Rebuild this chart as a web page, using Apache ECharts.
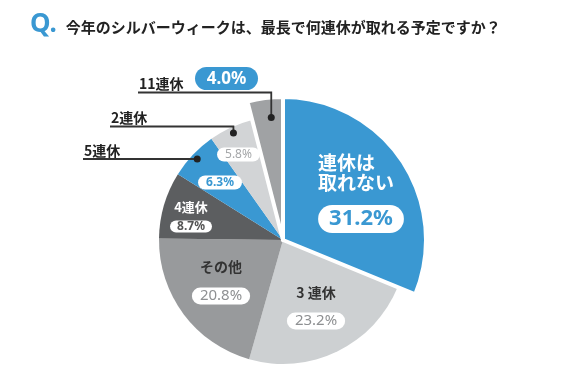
<!DOCTYPE html>
<html><head><meta charset="utf-8">
<script src="https://cdn.jsdelivr.net/npm/echarts@6/dist/echarts.min.js"></script>
<style>html,body{margin:0;padding:0;background:#fff}#c{width:566px;height:385px}</style>
</head><body><div id="c"></div>
<script>
// ---- data ----
const titleQ = 'Q.';
const titleText = '今年のシルバーウィークは、最長で何連休が取れる予定ですか？';
const categories = ['連休は取れない', '3連休', 'その他', '4連休', '5連休', '2連休', '11連休'];
const values = [31.2, 23.2, 20.8, 8.7, 6.3, 5.8, 4.0];
const sliceTitles = ['連休は\n取れない', '3 連休', 'その他', '4連休', '', '', ''];
const outsideNames = ['5連休', '2連休', '11連休'];
const percentLabels = values.map(v => v.toFixed(1) + '%');

// ---- styles / layout ----
const JP = '"Noto Sans CJK JP", "Noto Sans", sans-serif';
const NUM = '"Noto Sans", "Noto Sans CJK JP", sans-serif';
const BLUE = '#3a98d2';
const colors = [BLUE, '#cdd0d2', '#989a9c', '#5c5e60', BLUE, '#d2d4d6', '#a0a2a4'];
const isBig = [true, false, false, false, false, false, true];
const CX = 283, CY = 240, R_BIG = 143, R_SMALL = 124;
// label block centres
const labelPos = [[361, 199], [316, 302.5], [221, 276.5], [191, 214], [220, 182.5], [238.5, 154.5], [0, 0]];
// title style / pill style keys per slice
const titleStyle = ['wt', 'dt3', 'dto', 'w4', null, null, null];
const pillStyle = ['pb', 'pg', 'pg', 'pd', 'pbs', 'pls', null];
// outside label layout: [index, left x, line y, dot radius, fraction within slice]
const outsideLayout = [[4, 83, 159, 118, 0.5], [5, 110, 126.5, 118, 0.5], [6, 138, 92.5, 123, 0.62]];

const total = values.reduce((a, b) => a + b, 0);
const starts = [];
values.reduce((acc, v) => { starts.push(acc); return acc + v; }, 0);
function sliceAngle(i, f) { return (starts[i] + values[i] * f) / total * 360; }
function polar(deg, r) {
  const a = deg * Math.PI / 180;
  return [CX + r * Math.sin(a), CY - r * Math.cos(a)];
}

function formatter(p) {
  const i = p.dataIndex;
  const parts = [];
  if (titleStyle[i]) {
    sliceTitles[i].split('\n').forEach(l => parts.push('{' + titleStyle[i] + '|' + l + '}'));
  }
  if (pillStyle[i]) parts.push('{' + pillStyle[i] + '|' + percentLabels[i] + '}');
  return parts.join('\n');
}

const rich = {
  wt: { color: '#fff', fontSize: 19, fontWeight: 'bold', lineHeight: 20, align: 'left', fontFamily: JP },
  pb: { color: BLUE, backgroundColor: '#fff', borderRadius: 14, fontSize: 22, fontWeight: 'bold', lineHeight: 53, padding: [3, 11], fontFamily: NUM, align: 'center' },
  dt3: { color: '#333', fontSize: 14, fontWeight: 'bold', lineHeight: 37, fontFamily: JP },
  dto: { color: '#333', fontSize: 14, fontWeight: 'bold', lineHeight: 39, fontFamily: JP },
  pg: { color: '#8e9092', backgroundColor: '#fff', borderRadius: 9, fontSize: 15, lineHeight: 20, padding: [1, 8], fontFamily: NUM },
  w4: { color: '#fff', fontSize: 13, fontWeight: 'bold', lineHeight: 25, fontFamily: JP },
  pd: { color: '#555', backgroundColor: '#fff', borderRadius: 7, fontSize: 12, fontWeight: 'bold', lineHeight: 14, padding: [0, 7], fontFamily: NUM },
  pbs: { color: BLUE, backgroundColor: '#fff', borderRadius: 8, fontSize: 12, fontWeight: 'bold', lineHeight: 15, padding: [1, 8], fontFamily: NUM },
  pls: { color: '#a5a7a9', backgroundColor: '#fff', borderRadius: 8, fontSize: 12, lineHeight: 15, padding: [1, 8], fontFamily: NUM }
};

function buildData(big) {
  return categories.map((name, i) => {
    const mine = isBig[i] === big;
    return {
      name: name,
      value: values[i],
      itemStyle: {
        color: mine ? colors[i] : 'rgba(0,0,0,0)',
        borderColor: '#fff',
        borderWidth: (mine && big) ? 4 : 0
      },
      label: { show: mine && pillStyle[i] !== null }
    };
  });
}

function pieSeries(big) {
  return {
    type: 'pie',
    center: [CX, CY],
    radius: [0, big ? R_BIG : R_SMALL],
    startAngle: 90,
    clockwise: true,
    z: big ? 3 : 2,
    silent: true,
    emphasis: { disabled: true },
    label: { position: 'inside', formatter: formatter, rich: rich },
    labelLine: { show: false },
    labelLayout: function (p) { return { x: labelPos[p.dataIndex][0], y: labelPos[p.dataIndex][1] }; },
    data: buildData(big)
  };
}

// outside labels, leader lines, dots
const graphics = [];
outsideLayout.forEach(([i, leftX, lineY, r, f], k) => {
  const dot = polar(sliceAngle(i, f), r);
  const pts = Math.abs(dot[1] - lineY) < 3 ? [[dot[0], lineY], [leftX, lineY]] : [dot, [dot[0], lineY], [leftX, lineY]];
  graphics.push({ type: 'polyline', shape: { points: pts }, style: { stroke: '#333', lineWidth: 1.8, fill: null }, z: 10 });
  graphics.push({ type: 'circle', shape: { cx: pts[0][0], cy: pts[0][1], r: 3.5 }, style: { fill: '#222' }, z: 11 });
  graphics.push({ type: 'text', x: leftX + 1, y: lineY - 1.5, z: 11,
    style: { text: outsideNames[k], font: 'bold 14px ' + JP, fill: '#222', textVerticalAlign: 'bottom', textAlign: 'left' } });
  if (i === 6) {
    graphics.push({ type: 'rect', shape: { x: 195, y: 67, width: 63, height: 23, r: 11.5 }, style: { fill: BLUE }, z: 11 });
    graphics.push({ type: 'text', x: 226.5, y: 79, z: 12,
      style: { text: percentLabels[i], font: 'bold 17px ' + NUM, fill: '#fff', textAlign: 'center', textVerticalAlign: 'middle' } });
  }
});

const chart = echarts.init(document.getElementById('c'), null, { renderer: 'canvas' });
chart.setOption({
  backgroundColor: '#fff',
  animation: false,
  title: {
    left: 25, top: 7,
    text: '{q|' + titleQ + '}{t|' + titleText + '}',
    textStyle: {
      rich: {
        q: { color: BLUE, fontSize: 26, fontWeight: 'bold', fontFamily: NUM, padding: [0, 9, 0, 0] },
        t: { color: '#222', fontSize: 15, fontWeight: 'bold', fontFamily: JP, padding: [4, 0, 0, 0] }
      }
    }
  },
  series: [pieSeries(false), pieSeries(true)],
  graphic: graphics
});
</script>
</body></html>
